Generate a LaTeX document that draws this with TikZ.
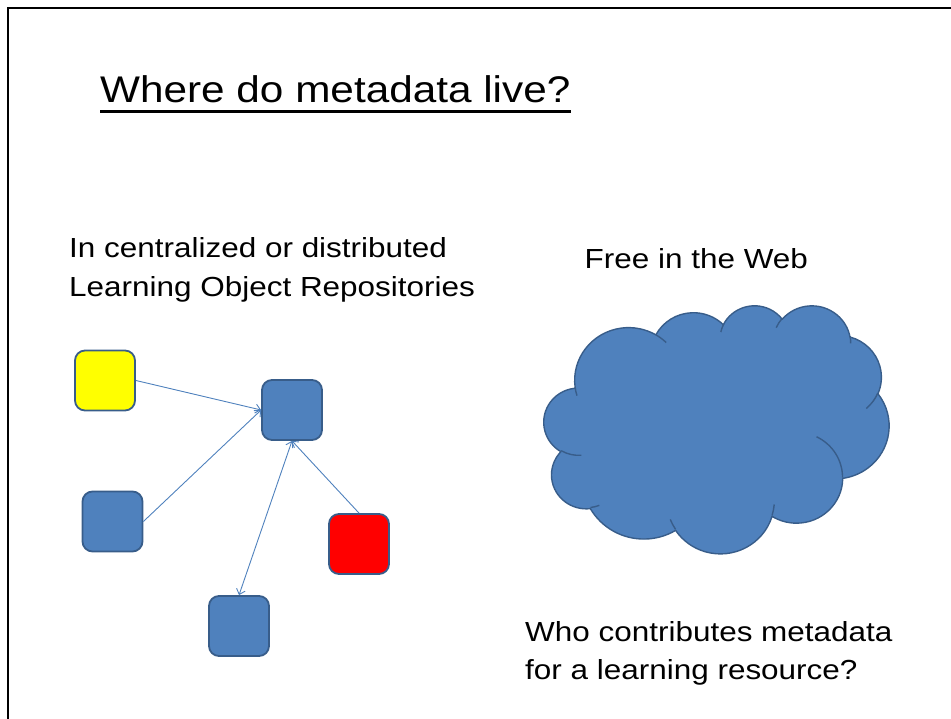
\documentclass[tikz,border=0pt]{standalone}
\usepackage{fontspec}
\setmainfont{Liberation Sans}[FakeStretch=1.14]
\usetikzlibrary{arrows.meta}

\definecolor{accent}{HTML}{4F81BD}
\definecolor{accentdark}{HTML}{385D8A}
\definecolor{boxyellow}{HTML}{FFFF00}
\definecolor{boxred}{HTML}{FF0000}

% scale of the cloud outline: path units (thousands) to pt
\def\cldkx{7.98611}
\def\cldky{5.74074}

\tikzset{
  % elliptical arc given by radii and a start/sweep angle measured on the page
  cloud arc/.code n args={4}{%
    \pgfmathsetmacro\cldS{-atan2((#1)*sin(#3),(#2)*cos(#3))}%
    \pgfmathsetmacro\cldE{-atan2((#1)*sin((#3)+(#4)),(#2)*cos((#3)+(#4)))}%
    \pgfmathsetmacro\cldD{-mod((\cldS)-(\cldE)+720,360)}%
    \pgfmathsetmacro\cldX{(#1)*\cldkx}%
    \pgfmathsetmacro\cldY{(#2)*\cldky}%
    \edef\cldtmp{\noexpand\tikzset{start angle=\cldS,delta angle=\cldD,x radius=\cldX pt,y radius=\cldY pt}}%
    \cldtmp
  },
  tile/.style={draw=accentdark, line width=1.8pt, rounded corners=10pt,
    minimum width=60pt, minimum height=60pt, inner sep=0pt},
  link/.style={draw=accent, line width=0.9pt},
  bodytext/.style={anchor=base west, inner sep=0pt,
    font=\fontsize{27.6pt}{33pt}\selectfont},
  headtext/.style={anchor=base west, inner sep=0pt,
    font=\fontsize{37.1pt}{44pt}\selectfont},
  >={Straight Barb[length=5pt,width=9pt]}
}

\begin{document}
\begin{tikzpicture}[x=1pt, y=1pt]
\useasboundingbox (0,0) rectangle (951,719);

% slide frame
\draw[line width=2.3pt] (8,-2) -- (8,711) -- (953,711);

% heading
\node[headtext] (title) at (100,616.3) {Where do metadata live?};
\draw[line width=3.3pt] ([yshift=-9pt]title.base west) -- ([yshift=-9pt]title.base east);

% captions
\node[bodytext] (repo1) at (69,461) {In centralized or distributed};
\node[bodytext] (repo2) at (69,422.3) {Learning Object Repositories};
\node[bodytext] (web) at (584.5,450.7) {Free in the Web};
\node[bodytext] (who1) at (525,77.3) {Who contributes metadata};
\node[bodytext] (who2) at (525,39) {for a learning resource?};

% repository network
\node[tile, fill=boxyellow] (yel) at (105,338.5) {};
\node[tile, fill=accent] (hub) at (292,309) {};
\node[tile, fill=accent] (lft) at (112.5,197.5) {};
\node[tile, fill=boxred] (red) at (359,175) {};
\node[tile, fill=accent] (bot) at (239,93) {};

\draw[link,->] (yel.east) -- (hub.west);
\draw[link,->] (lft.east) -- (hub.west);
\draw[link,->] (red.north) -- (hub.south);
\draw[link,<->] (hub.south) -- (bot.north);

% the web cloud
\begin{scope}[shift={(544pt,414pt)}, x=\cldkx pt, y=-\cldky pt]
  \path[fill=accent, draw=accentdark, line width=1.4pt, line join=round]
    (3.900,14.370)
    arc[cloud arc={6.753}{9.190}{-190.48748}{123.78053}]
    arc[cloud arc={5.333}{7.267}{-144.10238}{89.94523}]
    arc[cloud arc={4.365}{5.945}{-145.80792}{99.72302}]
    arc[cloud arc={4.857}{6.595}{-130.98607}{117.24173}]
    arc[cloud arc={5.333}{7.273}{-78.70888}{109.02692}]
    arc[cloud arc={6.775}{9.220}{-46.26725}{130.269}]
    arc[cloud arc={5.785}{7.867}{0.62502}{114.03333}]
    arc[cloud arc={6.752}{9.215}{22.4516}{115.17255}]
    arc[cloud arc={7.720}{10.543}{66.24263}{75.71102}]
    arc[cloud arc={4.360}{5.918}{-274.94208}{146.73557}]
    arc[cloud arc={4.345}{5.945}{-246.8285}{152.51885}]
    -- cycle;
  \draw[accentdark, line width=1.4pt]
    (4.693,26.177) arc[cloud arc={4.345}{5.945}{86.742}{26.4295}]
    (6.928,34.899) arc[cloud arc={4.360}{5.918}{73.61047}{11.44747}]
    (16.478,39.090) arc[cloud arc={6.752}{9.215}{137.62415}{14.0811}]
    (28.827,34.751) arc[cloud arc={6.752}{9.215}{6.45327}{15.99835}]
    (34.129,22.954) arc[cloud arc={5.785}{7.867}{-70.29235}{70.91737}]
    (41.798,15.354) arc[cloud arc={5.333}{7.273}{30.31803}{27.7515}]
    (38.324,5.426) arc[cloud arc={4.857}{6.595}{-13.74433}{14.8589}]
    (29.078,3.952) arc[cloud arc={4.857}{6.595}{-149.18145}{18.19537}]
    (22.141,4.720) arc[cloud arc={4.365}{5.945}{-163.49427}{17.68635}]
    (14.000,5.192) arc[cloud arc={6.753}{9.190}{-66.70695}{12.31935}]
    (4.127,15.789) arc[cloud arc={6.753}{9.190}{157.65435}{11.85817}];
\end{scope}
\end{tikzpicture}
\end{document}
